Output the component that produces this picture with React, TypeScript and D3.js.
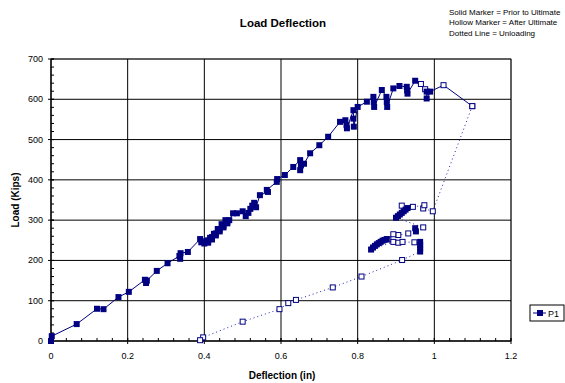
import * as d3 from 'd3';

// loading branch (solid line); hollow = 1 marks points after ultimate
const loadDefl = [
  0, 0.002, 0.067, 0.12, 0.137, 0.176, 0.203, 0.245, 0.248, 0.25, 0.276, 0.304, 0.335, 0.337, 0.338, 0.357,
  0.389, 0.392, 0.4, 0.41, 0.42, 0.43, 0.44, 0.45, 0.46, 0.455, 0.445, 0.435, 0.425, 0.415, 0.405, 0.41, 0.42,
  0.43, 0.44, 0.45, 0.46, 0.465, 0.475, 0.485, 0.5, 0.508, 0.515, 0.52, 0.525, 0.53, 0.535, 0.545, 0.566, 0.563,
  0.589, 0.59, 0.61, 0.632, 0.65, 0.652, 0.65, 0.66, 0.676, 0.7, 0.723, 0.754, 0.768, 0.771, 0.772, 0.789, 0.789,
  0.79, 0.8, 0.824, 0.841, 0.842, 0.843, 0.863, 0.875, 0.876, 0.877, 0.893, 0.909, 0.928, 0.929, 0.93, 0.95,
  0.965, 0.976, 0.98, 0.98, 0.989, 1.024, 1.099,
];
const loadLoad = [
  0, 12, 42, 80, 79, 109, 122, 152, 144, 150, 174, 193, 211, 204, 218, 221,
  253, 245, 242, 250, 258, 267, 276, 286, 296, 300, 290, 278, 266, 256, 248, 244, 252,
  262, 272, 282, 292, 300, 317, 317, 322, 310, 318, 328, 336, 343, 332, 362, 370, 375,
  395, 402, 412, 432, 449, 436, 424, 440, 466, 486, 507, 544, 548, 536, 528, 573, 552,
  532, 581, 594, 606, 593, 581, 623, 606, 593, 581, 627, 633, 631, 622, 614, 646,
  638, 625, 619, 602, 619, 635, 583,
];
const loadHollow = [
  0, 0, 0, 0, 0, 0, 0, 0, 0, 0, 0, 0, 0, 0, 0, 0,
  0, 0, 0, 0, 0, 0, 0, 0, 0, 0, 0, 0, 0, 0, 0, 0, 0,
  0, 0, 0, 0, 0, 0, 0, 0, 0, 0, 0, 0, 0, 0, 0, 0, 0,
  0, 0, 0, 0, 0, 0, 0, 0, 0, 0, 0, 0, 0, 0, 0, 0, 0,
  0, 0, 0, 0, 0, 0, 0, 0, 0, 0, 0, 0, 0, 0, 0, 0,
  1, 1, 0, 0, 0, 1, 1,
];

// unloading branch (dotted line)
const unloadDefl = [
  1.099, 0.996, 0.971, 0.974, 0.944, 0.915, 0.93, 0.925, 0.92, 0.915, 0.91, 0.905, 0.9,
  0.971, 0.95, 0.952, 0.932, 0.906, 0.893, 0.88, 0.876, 0.87, 0.865, 0.86, 0.855, 0.85, 0.845, 0.84, 0.835,
  0.893, 0.906, 0.917, 0.948, 0.963, 0.963, 0.963, 0.963, 0.916, 0.81, 0.735, 0.639, 0.619, 0.596, 0.5, 0.397, 0.389,
];
const unloadLoad = [
  583, 322, 329, 337, 333, 336, 330, 326, 322, 318, 314, 310, 306,
  282, 280, 272, 267, 263, 265, 252, 253, 251, 249, 246, 243, 240, 236, 232, 227,
  246, 244, 246, 245, 246, 238, 230, 222, 201, 160, 133, 102, 94, 79, 48, 9, 2,
];
const unloadHollow = [
  1, 1, 1, 1, 1, 1, 0, 0, 0, 0, 0, 0, 0,
  1, 0, 0, 1, 1, 1, 1, 0, 0, 0, 0, 0, 0, 0, 0, 0,
  1, 1, 1, 1, 0, 0, 0, 0, 1, 1, 1, 1, 1, 1, 1, 1, 1,
];

const xTicks = [0, 0.2, 0.4, 0.6, 0.8, 1, 1.2];
const yTicks = [0, 100, 200, 300, 400, 500, 600, 700];
const notes = ['Solid Marker = Prior to Ultimate', 'Hollow Marker = After Ultimate', 'Dotted Line = Unloading'];

const W = 565;
const H = 383;
const left = 51, right = 511, top = 59, bottom = 341;
const navy = '#000080';
const font = 'Arial, "Liberation Sans", sans-serif';

const x = d3.scaleLinear().domain([0, 1.2]).range([left, right]);
const y = d3.scaleLinear().domain([0, 700]).range([bottom, top]);

type P = { d: number; l: number; h: number };
const loadPts: P[] = loadDefl.map((d, i) => ({ d, l: loadLoad[i], h: loadHollow[i] }));
const unloadPts: P[] = unloadDefl.map((d, i) => ({ d, l: unloadLoad[i], h: unloadHollow[i] }));

const line = d3.line<P>().x(p => x(p.d)).y(p => y(p.l));

const xMinor = d3.range(0, 1.2001, 0.04);
const yMinor = d3.range(0, 700.01, 20);

const Marker = ({ p }: { p: P }) =>
  p.h ? (
    <rect x={x(p.d) - 2.5} y={y(p.l) - 2.5} width={5} height={5} fill="#fff" stroke={navy} strokeWidth={1} />
  ) : (
    <rect x={x(p.d) - 3} y={y(p.l) - 3} width={6} height={6} fill={navy} />
  );

export default function App() {
  return (
    <svg width={W} height={H} style={{ position: 'absolute', left: 0, top: 0, background: '#fff' }} fontFamily={font}>
      {/* title and notes */}
      <text x={283} y={27} textAnchor="middle" fontSize={11.5} fontWeight="bold">Load Deflection</text>
      {notes.map((t, i) => (
        <text key={t} x={449} y={14.5 + i * 10.7} fontSize={8}>{t}</text>
      ))}

      {/* plot frame */}
      <rect x={left} y={top} width={right - left} height={bottom - top} fill="none" stroke="#808080" strokeWidth={1} />

      {/* grid */}
      {xTicks.slice(1).map(t => (
        <line key={'gx' + t} x1={x(t)} x2={x(t)} y1={top} y2={bottom} stroke="#000" strokeWidth={1} />
      ))}
      {yTicks.slice(1).map(t => (
        <line key={'gy' + t} x1={left} x2={right} y1={y(t)} y2={y(t)} stroke="#000" strokeWidth={1} />
      ))}

      {/* axes */}
      <line x1={left} x2={left} y1={top} y2={bottom} stroke="#000" strokeWidth={1.5} />
      <line x1={left} x2={right} y1={bottom} y2={bottom} stroke="#000" strokeWidth={1.5} />
      {xMinor.map(t => (
        <line key={'mx' + t} x1={x(t)} x2={x(t)} y1={bottom} y2={bottom - 3} stroke="#000" />
      ))}
      {xTicks.map(t => (
        <line key={'tx' + t} x1={x(t)} x2={x(t)} y1={bottom - 3} y2={bottom + 3} stroke="#000" />
      ))}
      {yMinor.map(t => (
        <line key={'my' + t} x1={left} x2={left + 3} y1={y(t)} y2={y(t)} stroke="#000" />
      ))}
      {yTicks.map(t => (
        <line key={'ty' + t} x1={left - 3} x2={left + 3} y1={y(t)} y2={y(t)} stroke="#000" />
      ))}

      {xTicks.map(t => (
        <text key={'lx' + t} x={x(t)} y={359} textAnchor="middle" fontSize={9}>{String(t)}</text>
      ))}
      {yTicks.map(t => (
        <text key={'ly' + t} x={43} y={y(t) + 3} textAnchor="end" fontSize={9}>{t}</text>
      ))}

      <text x={282} y={379} textAnchor="middle" fontSize={10} fontWeight="bold">Deflection (in)</text>
      <text transform={`translate(19,${(top + bottom) / 2}) rotate(-90)`} textAnchor="middle" fontSize={10} fontWeight="bold">
        Load (Kips)
      </text>

      {/* series */}
      <path d={line(unloadPts) ?? ''} fill="none" stroke="#2020b0" strokeWidth={1} strokeDasharray="1,3" />
      <path d={line(loadPts) ?? ''} fill="none" stroke={navy} strokeWidth={1} />
      {loadPts.map((p, i) => <Marker key={'lp' + i} p={p} />)}
      {unloadPts.map((p, i) => <Marker key={'up' + i} p={p} />)}

      {/* legend */}
      <rect x={530} y={305} width={34} height={16} fill="#fff" stroke="#000" strokeWidth={1} />
      <line x1={533} x2={546} y1={313} y2={313} stroke={navy} strokeWidth={1} />
      <rect x={537} y={310} width={6} height={6} fill={navy} />
      <text x={548} y={316.5} fontSize={9}>P1</text>
    </svg>
  );
}
